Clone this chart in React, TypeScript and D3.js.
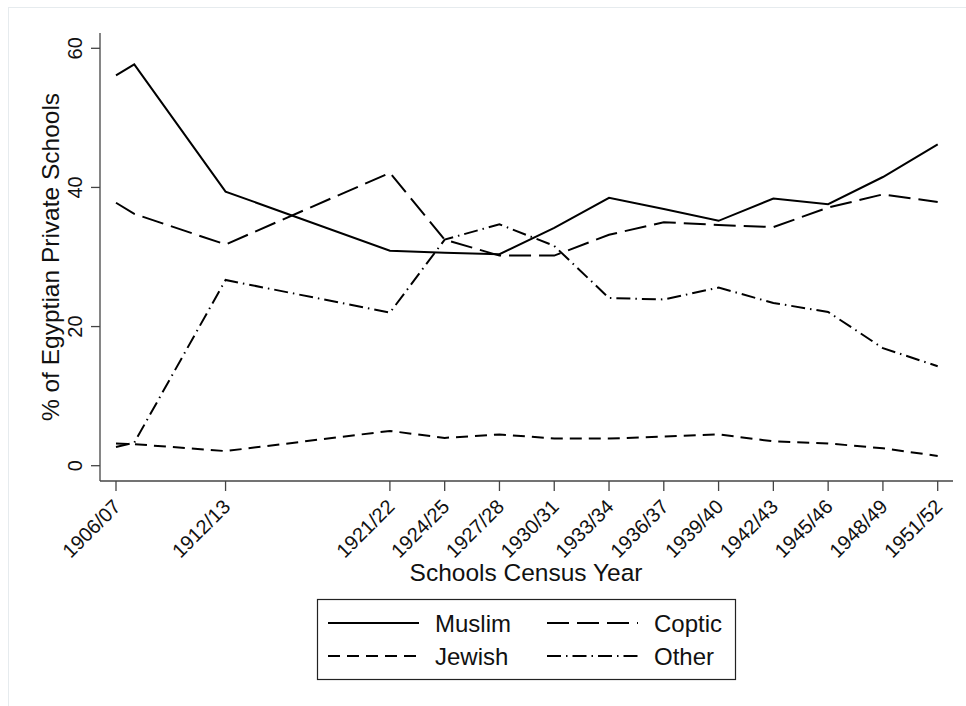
import React from "react";
import * as d3 from "d3";

const years = [1906, 1907, 1912, 1921, 1924, 1927, 1930, 1933, 1936, 1939, 1942, 1945, 1948, 1951];
const muslim = [56.1, 57.7, 39.4, 30.9, 30.6, 30.4, 34.2, 38.5, 36.9, 35.2, 38.4, 37.6, 41.5, 46.2];
const coptic = [37.8, 36.2, 31.8, 42.1, 32.5, 30.2, 30.2, 33.2, 35.0, 34.6, 34.3, 37.1, 39.0, 37.9];
const jewish = [3.2, 3.1, 2.1, 5.0, 4.0, 4.5, 3.9, 3.9, 4.2, 4.5, 3.5, 3.2, 2.5, 1.4];
const other = [2.7, 3.3, 26.7, 22.0, 32.5, 34.7, 31.6, 24.1, 23.9, 25.6, 23.4, 22.1, 16.9, 14.3];

const tickYears = [1906, 1912, 1921, 1924, 1927, 1930, 1933, 1936, 1939, 1942, 1945, 1948, 1951];
const tickLabels = ["1906/07", "1912/13", "1921/22", "1924/25", "1927/28", "1930/31", "1933/34", "1936/37", "1939/40", "1942/43", "1945/46", "1948/49", "1951/52"];
const yTicks = [0, 20, 40, 60];

const seriesNames = ["Muslim", "Coptic", "Jewish", "Other"];
const dashes = ["", "22,8", "12,7", "14,5,1.5,5"];

const FONT = "'Liberation Sans', Arial, Helvetica, sans-serif";

export default function App() {
  const W = 966, H = 706;
  const plotL = 100, plotR = 953, plotT = 33, plotB = 481;
  const x = d3.scaleLinear().domain([1906, 1951]).range([116, 937.7]);
  const y = d3.scaleLinear().domain([0, 60]).range([465.7, 48.3]);
  const allSeries = [muslim, coptic, jewish, other];
  const line = d3.line<number>().x((_, i) => x(years[i])).y((v) => y(v));
  const axisColor = "#444";

  const legendItems = [
    { name: seriesNames[0], dash: dashes[0], lx: 328, ly: 623, tx: 435 },
    { name: seriesNames[1], dash: dashes[1], lx: 547, ly: 623, tx: 654 },
    { name: seriesNames[2], dash: dashes[2], lx: 328, ly: 656, tx: 435 },
    { name: seriesNames[3], dash: dashes[3], lx: 547, ly: 656, tx: 654 },
  ];

  return (
    <svg width={W} height={H} style={{ position: "absolute", left: 0, top: 0, display: "block", background: "#fff" }} fontFamily={FONT}>
      <rect x={0} y={0} width={W} height={H} fill="#fff" />
      <rect x={8.5} y={7.5} width={1200} height={1200} fill="#fff" stroke="#e6ebee" strokeWidth={1} />
      {/* axes */}
      <line x1={plotL} x2={plotL} y1={plotT} y2={plotB} stroke={axisColor} strokeWidth={1.3} />
      <line x1={plotL} x2={plotR} y1={plotB} y2={plotB} stroke={axisColor} strokeWidth={1.3} />
      {yTicks.map((t) => (
        <g key={t}>
          <line x1={plotL - 9} x2={plotL} y1={y(t)} y2={y(t)} stroke={axisColor} strokeWidth={1.3} />
          <text transform={`translate(${82},${y(t)}) rotate(-90)`} textAnchor="middle" fontSize={20} fill="#111">
            {t}
          </text>
        </g>
      ))}
      {tickYears.map((t, i) => (
        <g key={t}>
          <line x1={x(t)} x2={x(t)} y1={plotB} y2={plotB + 10} stroke={axisColor} strokeWidth={1.3} />
          <text transform={`translate(${x(t) + 1},${503}) rotate(-45)`} textAnchor="end" dominantBaseline="central" fontSize={20} fill="#111">
            {tickLabels[i]}
          </text>
        </g>
      ))}
      {/* axis titles */}
      <text transform={`translate(${59},${257}) rotate(-90)`} textAnchor="middle" fontSize={24.5} fill="#111">
        % of Egyptian Private Schools
      </text>
      <text x={526} y={581} textAnchor="middle" fontSize={24.5} fill="#111">
        Schools Census Year
      </text>
      {/* series */}
      {allSeries.map((s, i) => (
        <path key={i} d={line(s) || ""} fill="none" stroke="#000" strokeWidth={2} strokeDasharray={dashes[i] || undefined} strokeLinejoin="miter" />
      ))}
      {/* legend */}
      <rect x={317.5} y={599.5} width={418} height={80} fill="#fff" stroke="#222" strokeWidth={1.2} />
      {legendItems.map((it) => (
        <g key={it.name}>
          <line x1={it.lx} x2={it.lx + 91} y1={it.ly} y2={it.ly} stroke="#000" strokeWidth={2} strokeDasharray={it.dash || undefined} />
          <text x={it.tx} y={it.ly + 9} fontSize={24} fill="#111">
            {it.name}
          </text>
        </g>
      ))}
    </svg>
  );
}
